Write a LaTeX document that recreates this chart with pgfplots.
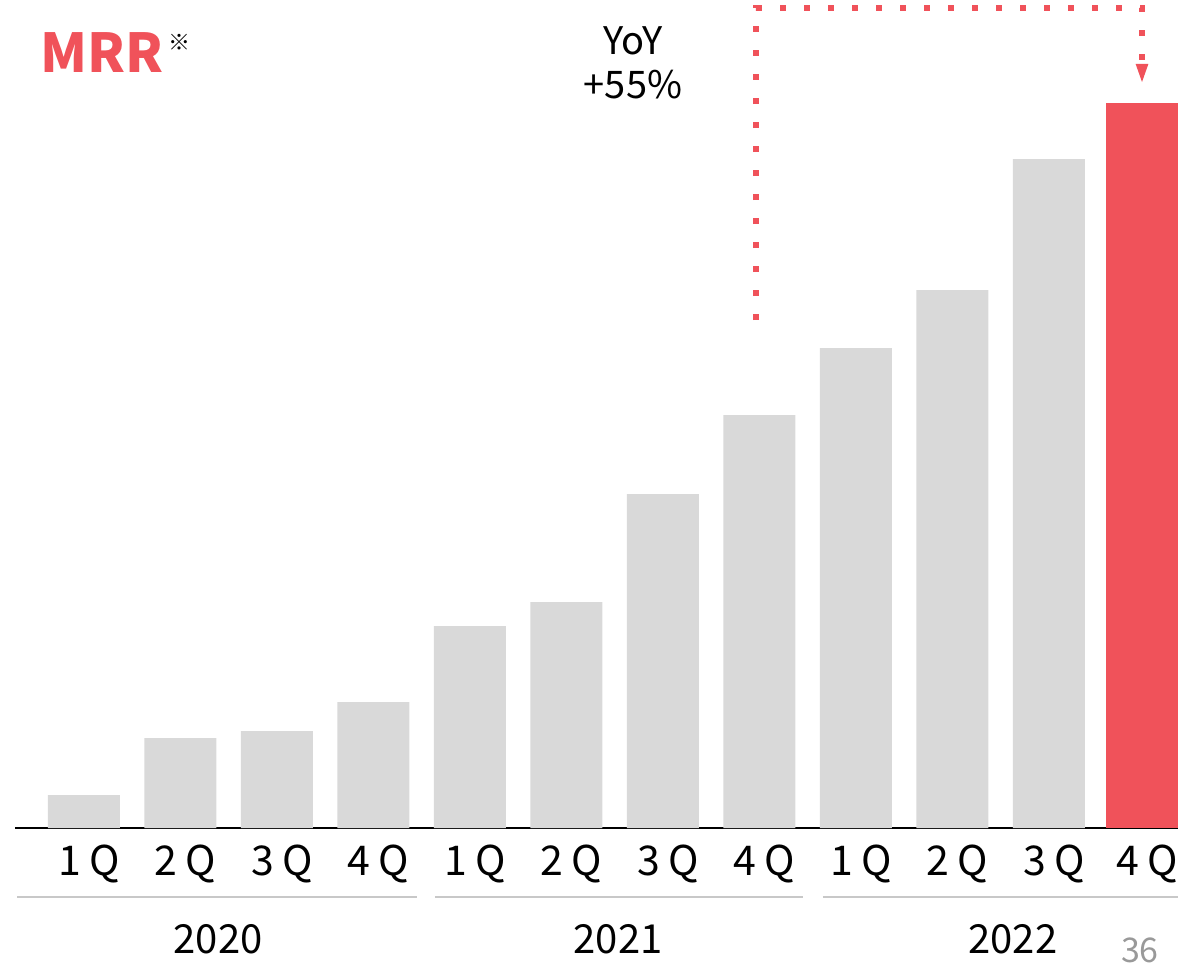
\documentclass[border=0pt]{standalone}
\usepackage{pgfplots}
\pgfplotsset{compat=1.18}
\usepackage{fontspec}
\setmainfont{Noto Sans CJK JP}
\definecolor{mrrred}{HTML}{F0525A}
\definecolor{bargray}{HTML}{D9D9D9}
\definecolor{linegray}{HTML}{C8C8C8}
\definecolor{pagegray}{HTML}{999999}
\newcommand{\q}[1]{#1\hspace{4pt}Q}
\begin{document}
\begin{tikzpicture}
\path[use as bounding box] (0,0) rectangle (589pt,483pt);
\begin{axis}[
  at={(7.5pt,69pt)}, anchor=south west,
  scale only axis, width=581.5pt, height=414pt,
  xmin=-0.715, xmax=11.337, ymin=0, ymax=828,
  axis x line*=bottom, axis y line=none,
  x axis line style={black, line width=1pt, -},
  ytick=\empty, xtick={0,1,2,3,4,5,6,7,8,9,10,10.964},
  xticklabels={\q1,\q2,\q3,\q4,\q1,\q2,\q3,\q4,\q1,\q2,\q3,\q4},
  xticklabel style={font=\fontsize{20.5pt}{22pt}\selectfont, anchor=base, yshift=-23.5pt, xshift=2.5pt, inner sep=0pt},
  major tick length=0pt,
  ybar, bar width=36pt, bar shift=0pt,
  clip mode=individual,
]
\addplot[fill=bargray, draw=none] coordinates {
 (0,33) (1,90) (2,97) (3,126) (4,202) (5,226) (6,334) (7,413) (8,480) (9,538) (10,669)};
\addplot[fill=mrrred, draw=none] coordinates {(10.964,725)};

% dotted annotation
\draw[mrrred, line width=3pt, dash pattern=on 3pt off 9pt] (axis cs:6.964,508) -- (axis cs:6.964,820) -- (axis cs:10.964,820) -- (axis cs:10.964,764);
\fill[mrrred] (axis cs:10.898,764) -- (axis cs:11.030,764) -- (axis cs:10.964,746) -- cycle;

\node[anchor=base, font=\fontsize{19pt}{22pt}\selectfont] at (axis cs:5.689,773) {YoY};
\node[anchor=base, font=\fontsize{19pt}{22pt}\selectfont] at (axis cs:5.689,730) {+55\%};

% title
\node[anchor=base west, inner sep=0pt, text=mrrred, font=\fontsize{26.8pt}{32pt}\selectfont\bfseries] at (axis cs:-0.456,755) {MRR};
\node[anchor=base west, inner sep=0pt, font=\fontsize{11pt}{12pt}\selectfont] at (axis cs:0.870,777) {※};

% year groups
\draw[linegray, line width=1pt] (axis cs:-0.694,-69) -- (axis cs:3.451,-69);
\draw[linegray, line width=1pt] (axis cs:3.637,-69) -- (axis cs:7.451,-69);
\draw[linegray, line width=1pt] (axis cs:7.658,-69) -- (axis cs:11.337,-69);
\node[anchor=base, inner sep=0pt, font=\fontsize{20pt}{22pt}\selectfont] at (axis cs:1.389,-125) {2020};
\node[anchor=base, inner sep=0pt, font=\fontsize{20pt}{22pt}\selectfont] at (axis cs:5.534,-125) {2021};
\node[anchor=base, inner sep=0pt, font=\fontsize{20pt}{22pt}\selectfont] at (axis cs:9.627,-125) {2022};
\node[anchor=base, inner sep=0pt, text=pagegray, font=\fontsize{17pt}{20pt}\selectfont] at (axis cs:10.943,-134) {36};
\end{axis}
\end{tikzpicture}
\end{document}
